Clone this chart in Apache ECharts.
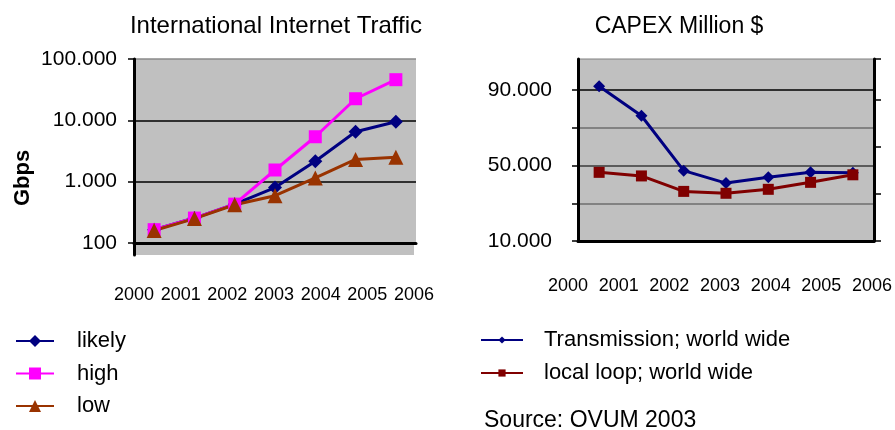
<!DOCTYPE html>
<html>
<head>
<meta charset="utf-8">
<script src="https://cdn.jsdelivr.net/npm/echarts@6/dist/echarts.min.js"></script>
<style>
  html, body { margin: 0; padding: 0; background: #fff; }
  #charts { width: 895px; height: 430px; }
</style>
</head>
<body>
<div id="charts"></div>
<script>
// categories
var years = ['2000', '2001', '2002', '2003', '2004', '2005', '2006'];

// International Internet Traffic, Gbps (log axis)
var likely = [165, 255, 430, 800, 2150, 6500, 9500];
var high = [165, 255, 430, 1550, 5400, 22500, 46000];
var low = [160, 250, 420, 590, 1150, 2300, 2500];
var trafficTicks = [100, 1000, 10000, 100000];
var trafficLabels = ['100', '1.000', '10.000', '100.000'];

// CAPEX Million $
var transmission = [92000, 76400, 47300, 40700, 43800, 46400, 46200];
var localLoop = [46400, 44500, 36300, 35300, 37400, 41100, 45100];
var capexGrid = [10000, 30000, 50000, 70000, 90000];
var capexTicks = [10000, 50000, 90000];
var capexLabels = ['10.000', '50.000', '90.000'];

var gray = '#c0c0c0';
var labelFont = "'Liberation Sans', Arial, sans-serif";

var chart = echarts.init(document.getElementById('charts'));
chart.setOption({
    animation: false,
    backgroundColor: '#fff',
    title: [
        { text: 'International Internet Traffic', left: 271, textAlign: 'center', top: 9,
          textStyle: { fontFamily: labelFont, fontSize: 24, fontWeight: 'normal', color: '#000' } },
        { text: 'CAPEX Million $', left: 674, textAlign: 'center', top: 10,
          textStyle: { fontFamily: labelFont, fontSize: 23, fontWeight: 'normal', color: '#000' } },
        { text: 'Source: OVUM 2003', left: 479, top: 404,
          textStyle: { fontFamily: labelFont, fontSize: 23, fontWeight: 'normal', color: '#000' } }
    ],
    legend: [
        {
            orient: 'vertical', left: 10, top: 325, itemGap: 10.5,
            itemWidth: 38, itemHeight: 15,
            data: ['likely', 'high', 'low'],
            textStyle: { fontFamily: labelFont, fontSize: 22, color: '#000', padding: [0, 0, 0, 18] }
        },
        {
            orient: 'vertical', left: 475, top: 324, itemGap: 11,
            itemWidth: 42, itemHeight: 9,
            data: ['Transmission; world wide', 'local loop; world wide'],
            textStyle: { fontFamily: labelFont, fontSize: 22, color: '#000', padding: [0, 0, 0, 16] }
        }
    ],
    grid: [
        { left: 134, top: 59, width: 282, height: 184, show: true, backgroundColor: gray, borderWidth: 0 },
        { left: 134, top: 243, width: 280, height: 12, show: true, backgroundColor: gray, borderWidth: 0 },
        { left: 578, top: 59, width: 296, height: 182, show: true, backgroundColor: gray,
          borderColor: '#808080', borderWidth: 1 },
        { left: 568, top: 240, width: 305, height: 1, show: false }
    ],
    xAxis: [
        {
            gridIndex: 0, type: 'category', data: years, boundaryGap: true,
            axisLine: { lineStyle: { color: '#000', width: 3 } },
            axisTick: { length: 7, lineStyle: { color: '#000', width: 2 } },
            axisLabel: { show: false }
        },
        {
            gridIndex: 1, type: 'category', data: years, boundaryGap: false,
            axisLine: { show: false }, axisTick: { show: false },
            axisLabel: { margin: 31, fontFamily: labelFont, fontSize: 18, color: '#000', interval: 0 }
        },
        {
            gridIndex: 2, type: 'category', data: years, boundaryGap: true,
            axisLine: { lineStyle: { color: '#000', width: 3 } },
            axisTick: { length: 7, lineStyle: { color: '#000', width: 2 } },
            axisLabel: { show: false }
        },
        {
            gridIndex: 3, type: 'category', data: years, boundaryGap: false,
            axisLine: { show: false }, axisTick: { show: false },
            axisLabel: { margin: 36, fontFamily: labelFont, fontSize: 18, color: '#000', interval: 0 }
        }
    ],
    yAxis: [
        {
            gridIndex: 0, type: 'log', logBase: 10, min: 100, max: 100000,
            name: 'Gbps', nameLocation: 'middle', nameRotate: 90, nameGap: 100,
            nameTextStyle: { fontFamily: labelFont, fontSize: 22, fontWeight: 'bold', color: '#000',
                             padding: [0, 54, 0, 0] },
            axisLine: { show: true, lineStyle: { color: '#000', width: 3 } },
            axisTick: { show: true, length: 6, lineStyle: { color: '#000', width: 1.5 } },
            axisLabel: {
                margin: 17, fontFamily: labelFont, fontSize: 21, color: '#000',
                formatter: function(value) {
                    var idx = trafficTicks.indexOf(Math.pow(10, Math.round(Math.log(value) / Math.LN10)));
                    return idx < 0 ? '' : trafficLabels[idx];
                }
            },
            splitLine: { show: true, lineStyle: { color: ['#000', '#000', '#000', '#8a8a8a'], width: 1.5 } }
        },
        {
            gridIndex: 1, type: 'value', min: 0, max: 1,
            axisLine: { show: true, lineStyle: { color: '#000', width: 3 } },
            axisTick: { show: false }, axisLabel: { show: false }, splitLine: { show: false }
        },
        {
            gridIndex: 2, type: 'value', min: 10000, max: 106500,
            axisLine: { show: true, lineStyle: { color: '#000', width: 3 } },
            axisTick: { show: true, length: 6, customValues: capexGrid, lineStyle: { color: '#000', width: 1.5 } },
            axisLabel: {
                margin: 26, fontFamily: labelFont, fontSize: 21, color: '#000', customValues: capexTicks,
                formatter: function(value) {
                    var idx = capexTicks.indexOf(Math.round(value));
                    return idx < 0 ? '' : capexLabels[idx];
                }
            },
            splitLine: { show: true, lineStyle: { color: ['#000', '#6e6e6e', '#3a3a3a', '#6e6e6e', '#000'], width: 1.5 } }
        },
        {
            gridIndex: 2, type: 'value', position: 'right', min: 0, max: 3.87, interval: 1,
            axisLine: { show: true, lineStyle: { color: '#000', width: 3 } },
            axisTick: { show: true, length: 7, lineStyle: { color: '#000', width: 1.5 } },
            axisLabel: { show: false }, splitLine: { show: false }
        },
        {
            gridIndex: 3, type: 'value', show: false
        }
    ],
    series: [
        {
            name: 'likely', type: 'line', xAxisIndex: 0, yAxisIndex: 0, data: likely,
            symbol: 'diamond', symbolSize: 14, color: '#000080',
            lineStyle: { width: 3, color: '#000080' }, itemStyle: { color: '#000080' }
        },
        {
            name: 'high', type: 'line', xAxisIndex: 0, yAxisIndex: 0, data: high,
            symbol: 'rect', symbolSize: 13, color: '#ff00ff',
            lineStyle: { width: 3, color: '#ff00ff' }, itemStyle: { color: '#ff00ff' }
        },
        {
            name: 'low', type: 'line', xAxisIndex: 0, yAxisIndex: 0, data: low,
            symbol: 'triangle', symbolSize: 15, color: '#993300',
            lineStyle: { width: 3, color: '#993300' }, itemStyle: { color: '#993300' }
        },
        {
            name: 'Transmission; world wide', type: 'line', xAxisIndex: 2, yAxisIndex: 2, data: transmission,
            symbol: 'diamond', symbolSize: 12, color: '#000080',
            lineStyle: { width: 3, color: '#000080' }, itemStyle: { color: '#000080' }
        },
        {
            name: 'local loop; world wide', type: 'line', xAxisIndex: 2, yAxisIndex: 2, data: localLoop,
            symbol: 'rect', symbolSize: 11, color: '#800000',
            lineStyle: { width: 3, color: '#800000' }, itemStyle: { color: '#800000' }
        }
    ]
});
</script>
</body>
</html>
